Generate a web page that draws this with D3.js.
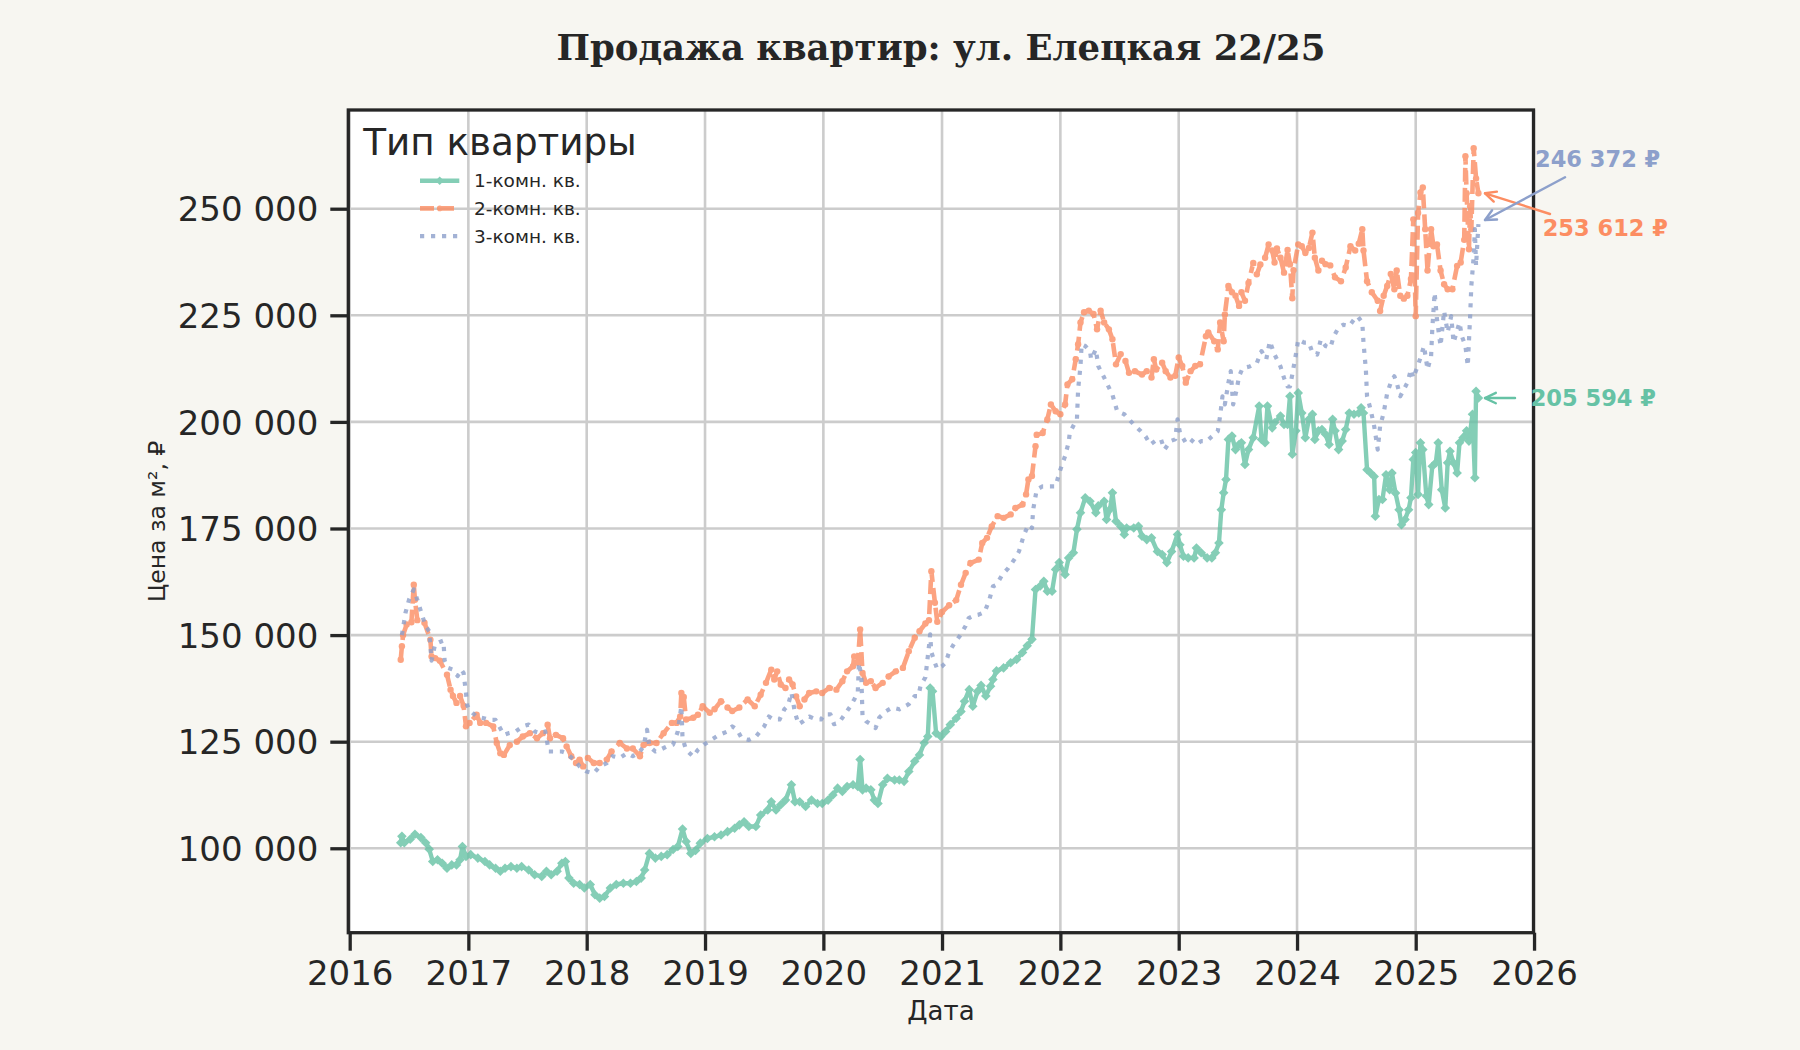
<!DOCTYPE html>
<html><head><meta charset="utf-8">
<script src="https://cdn.jsdelivr.net/npm/d3@7"></script>
<style>html,body{margin:0;padding:0;background:#f7f6f1;} svg{display:block}</style>
</head><body><svg id="chart" width="1800" height="1050"></svg>
<script>
// ---- DATA (decimal year, price per m² in ₽) ----
const oneRoom = [
[2016.43,101300],[2016.44,102800],[2016.46,101300],[2016.51,102100],[2016.55,103300],[2016.60,102500],[2016.64,101300],[2016.67,99800],[2016.70,96900],[2016.74,97300],[2016.78,96500],[2016.82,95300],[2016.86,96100],[2016.90,96100],[2016.93,97300],[2016.95,100400],[2016.98,98100],
[2017.02,98500],[2017.08,97700],[2017.14,96900],[2017.18,96100],[2017.23,95300],[2017.27,94600],[2017.31,95300],[2017.36,95700],[2017.41,95300],[2017.45,95700],[2017.51,94900],[2017.56,93800],[2017.62,93400],[2017.66,94600],[2017.70,93800],[2017.75,94600],[2017.79,96500],[2017.82,96900],[2017.85,93000],[2017.89,91800],[2017.94,91500],[2017.98,90700],
[2018.03,91500],[2018.07,89100],[2018.11,88300],[2018.15,88700],[2018.20,90700],[2018.25,91500],[2018.31,91800],[2018.37,91800],[2018.42,92200],[2018.46,93000],[2018.49,94900],[2018.53,98800],[2018.58,97700],[2018.63,98100],[2018.68,98500],[2018.73,99700],[2018.77,100400],[2018.81,104500],[2018.84,101600],[2018.88,98800],[2018.92,99500],[2018.96,101200],
[2019.02,102300],[2019.08,102700],[2019.135,103100],[2019.19,103900],[2019.25,104700],[2019.29,105500],[2019.33,106200],[2019.37,105100],[2019.43,105100],[2019.47,107800],[2019.53,109000],[2019.56,110900],[2019.60,109000],[2019.64,110200],[2019.68,111300],[2019.73,114900],[2019.76,110900],[2019.80,110900],[2019.85,109800],[2019.90,111300],[2019.95,110500],[2019.99,110500],
[2020.04,111300],[2020.08,112500],[2020.12,114100],[2020.16,113300],[2020.20,114500],[2020.25,114900],[2020.29,114500],[2020.31,120800],[2020.33,113700],[2020.36,114100],[2020.40,113700],[2020.43,111300],[2020.46,110500],[2020.50,114900],[2020.54,116400],[2020.60,116000],[2020.64,116000],[2020.68,115700],[2020.72,118000],[2020.77,120400],[2020.81,121900],[2020.85,124700],[2020.88,126200],[2020.90,137600],[2020.92,136800],[2020.95,127000],[2020.99,126200],
[2021.03,127400],[2021.07,129000],[2021.12,130500],[2021.16,132100],[2021.19,134500],[2021.23,137200],[2021.26,133300],[2021.30,136800],[2021.33,138200],[2021.37,135700],[2021.41,138000],[2021.43,139600],[2021.46,141600],[2021.52,142300],[2021.58,143500],[2021.63,144300],[2021.68,145900],[2021.72,147500],[2021.76,149000],[2021.79,160700],[2021.83,161500],[2021.86,162600],[2021.89,160300],[2021.93,160300],[2021.96,165400],[2021.99,167000],
[2022.04,164200],[2022.07,168100],[2022.11,169300],[2022.14,174800],[2022.17,178700],[2022.21,182200],[2022.25,181400],[2022.30,178700],[2022.32,180300],[2022.37,181400],[2022.39,177100],[2022.42,179500],[2022.44,183400],[2022.47,176700],[2022.51,175500],[2022.54,173600],[2022.56,175100],[2022.62,175100],[2022.66,175500],[2022.69,173200],[2022.73,172400],[2022.77,172800],[2022.82,169600],[2022.86,168900],[2022.90,167000],[2022.94,169600],[2022.99,173600],
[2023.01,171200],[2023.04,168500],[2023.08,168100],[2023.13,168100],[2023.15,170400],[2023.19,169300],[2023.24,168100],[2023.28,168100],[2023.31,169300],[2023.34,171600],[2023.36,179400],[2023.38,183400],[2023.40,186500],[2023.42,195900],[2023.45,196700],[2023.48,193500],[2023.51,194700],[2023.53,195100],[2023.56,190000],[2023.59,193500],[2023.63,196300],[2023.68,203700],[2023.70,195900],[2023.73,195100],[2023.75,203700],[2023.79,198600],[2023.81,199800],[2023.86,201400],[2023.89,199400],[2023.92,199400],[2023.94,206000],[2023.96,192400],[2023.99,197900],
[2024.01,206800],[2024.04,202100],[2024.07,196300],[2024.10,200600],[2024.13,201800],[2024.15,195900],[2024.18,197900],[2024.21,198200],[2024.24,197100],[2024.27,194700],[2024.30,200600],[2024.32,197900],[2024.35,193500],[2024.38,195500],[2024.41,198200],[2024.44,202100],[2024.48,201800],[2024.52,202100],[2024.54,203300],[2024.56,202100],[2024.59,188800],[2024.62,188000],[2024.65,187200],[2024.66,177900],[2024.69,181800],[2024.72,181800],[2024.75,187600],[2024.78,184100],[2024.80,188000],[2024.83,183300],[2024.86,179400],[2024.88,175900],[2024.91,177100],[2024.94,179400],[2024.96,182200],[2024.98,191200],
[2025.00,192800],[2025.02,183000],[2025.04,195100],[2025.06,193500],[2025.09,182600],[2025.11,180600],[2025.14,189600],[2025.17,190400],[2025.19,195100],[2025.22,184100],[2025.25,179800],[2025.27,190400],[2025.29,193100],[2025.32,190400],[2025.35,188000],[2025.37,195100],[2025.40,196300],[2025.43,197900],[2025.45,195500],[2025.48,201800],[2025.50,186900],[2025.51,207200],[2025.53,205594]
];
const twoRoom = [
[2016.43,144200],[2016.44,147400],[2016.45,150000],[2016.48,152500],[2016.52,153000],[2016.54,161800],[2016.55,158300],[2016.57,153500],[2016.63,152900],[2016.68,148900],[2016.69,145000],[2016.72,144600],[2016.76,144000],[2016.82,140700],[2016.85,137200],[2016.87,135700],[2016.90,134100],[2016.93,135700],[2016.96,133400],[2016.98,128600],
[2017.01,129400],[2017.07,131300],[2017.10,129400],[2017.15,129400],[2017.21,128600],[2017.24,124700],[2017.27,122300],[2017.30,121900],[2017.35,124200],[2017.41,125000],[2017.46,126200],[2017.52,127000],[2017.58,125800],[2017.63,127000],[2017.67,129000],[2017.69,125800],[2017.74,126600],[2017.80,125800],[2017.83,123900],[2017.87,121600],[2017.91,120000],[2017.94,120800],[2017.97,119200],
[2018.01,121200],[2018.06,120000],[2018.11,120000],[2018.17,120800],[2018.21,122700],[2018.28,124700],[2018.34,123400],[2018.39,123400],[2018.45,121600],[2018.48,124200],[2018.53,124700],[2018.59,124700],[2018.65,127000],[2018.72,129400],[2018.76,129400],[2018.79,130900],[2018.80,136400],[2018.82,135500],[2018.84,130200],[2018.90,130600],[2018.94,131300],[2018.98,133300],
[2019.04,131800],[2019.08,132600],[2019.135,134500],[2019.19,133000],[2019.23,132200],[2019.29,133000],[2019.36,134900],[2019.42,133300],[2019.47,136000],[2019.515,138800],[2019.56,141900],[2019.585,139600],[2019.61,141500],[2019.64,138400],[2019.68,137600],[2019.71,139600],[2019.74,138400],[2019.77,135600],[2019.80,133300],[2019.84,134900],[2019.88,136400],[2019.94,136800],[2019.99,136400],
[2020.05,137600],[2020.11,137200],[2020.16,139200],[2020.20,141500],[2020.25,142700],[2020.26,145000],[2020.29,143500],[2020.31,151300],[2020.33,141100],[2020.36,138800],[2020.40,139200],[2020.44,137600],[2020.50,138800],[2020.55,140300],[2020.61,141500],[2020.67,142300],[2020.72,146200],[2020.77,149400],[2020.81,150900],[2020.86,152700],[2020.89,153500],[2020.91,165000],[2020.94,157600],[2020.96,153100],
[2021.00,155400],[2021.06,157000],[2021.12,158200],[2021.16,161800],[2021.20,164600],[2021.24,166900],[2021.31,167700],[2021.34,171600],[2021.38,172800],[2021.42,175500],[2021.47,177900],[2021.52,177500],[2021.58,178300],[2021.62,179800],[2021.68,180600],[2021.71,183000],[2021.73,186500],[2021.76,187300],[2021.79,194300],[2021.80,197000],[2021.85,197400],[2021.89,200600],[2021.92,204100],[2021.96,202500],
[2022.00,201800],[2022.04,204100],[2022.06,208800],[2022.10,210000],[2022.13,214700],[2022.15,218200],[2022.17,223300],[2022.20,225700],[2022.24,226100],[2022.28,225300],[2022.31,221700],[2022.34,226100],[2022.37,223300],[2022.41,221700],[2022.44,219400],[2022.47,213500],[2022.51,215900],[2022.55,214300],[2022.58,211500],[2022.63,211900],[2022.69,211100],[2022.73,211900],[2022.77,210400],[2022.79,214700],[2022.81,212300],[2022.86,213900],[2022.89,211900],[2022.93,210400],[2022.97,210800],
[2023.00,215100],[2023.03,213100],[2023.06,209200],[2023.10,211900],[2023.14,213100],[2023.18,213500],[2023.23,220100],[2023.25,221000],[2023.30,218900],[2023.33,217000],[2023.35,223300],[2023.38,218900],[2023.39,225200],[2023.42,231900],[2023.45,230400],[2023.48,229600],[2023.51,227200],[2023.53,230400],[2023.56,228400],[2023.59,232600],[2023.63,237300],[2023.66,234600],[2023.69,236900],[2023.73,238500],[2023.76,241600],[2023.79,240200],[2023.81,237400],[2023.83,240700],[2023.86,238500],[2023.89,235000],[2023.92,240300],[2023.94,237000],[2023.96,229000],[2023.97,235600],
[2024.01,241600],[2024.04,241200],[2024.07,239600],[2024.10,240800],[2024.13,244400],[2024.15,238500],[2024.18,235500],[2024.21,237800],[2024.24,237000],[2024.28,236700],[2024.32,233900],[2024.37,233000],[2024.41,236200],[2024.45,241200],[2024.49,240200],[2024.52,241800],[2024.55,245200],[2024.56,240200],[2024.59,233000],[2024.63,230400],[2024.68,228400],[2024.70,226000],[2024.73,229600],[2024.76,231900],[2024.79,234700],[2024.82,231100],[2024.84,235500],[2024.87,229600],[2024.90,228900],[2024.93,229600],[2024.96,233500],[2024.98,247500],
[2025.00,224800],[2025.02,249000],[2025.04,253800],[2025.06,255000],[2025.08,245200],[2025.10,235500],[2025.13,245200],[2025.15,241200],[2025.18,241600],[2025.21,235500],[2025.24,232300],[2025.27,231100],[2025.31,231100],[2025.35,236600],[2025.38,237400],[2025.41,242700],[2025.42,262300],[2025.43,253600],[2025.45,240500],[2025.46,250600],[2025.47,245200],[2025.49,264200],[2025.51,257100],[2025.53,253612]
];
const threeRoom = [
[2016.44,150000],[2016.47,155200],[2016.50,158300],[2016.54,160700],[2016.57,158300],[2016.60,155600],[2016.64,152100],[2016.67,150900],[2016.69,144000],[2016.72,147900],[2016.76,148400],[2016.79,148700],[2016.80,144000],[2016.83,142300],[2016.87,141900],[2016.91,140400],[2016.94,141900],[2016.96,141100],[2016.98,136400],[2016.99,133600],
[2017.01,132400],[2017.07,130900],[2017.13,130500],[2017.18,130100],[2017.23,130100],[2017.26,128600],[2017.30,126600],[2017.34,127000],[2017.40,127400],[2017.46,128600],[2017.51,129000],[2017.56,127400],[2017.61,127000],[2017.65,127400],[2017.68,122700],[2017.74,122700],[2017.79,122700],[2017.83,122300],[2017.89,120800],[2017.94,119200],
[2018.00,118000],[2018.06,117600],[2018.11,119200],[2018.17,120000],[2018.22,121600],[2018.28,121200],[2018.34,122300],[2018.39,121600],[2018.44,122300],[2018.48,123900],[2018.51,127800],[2018.53,123900],[2018.58,122700],[2018.62,123100],[2018.68,123900],[2018.73,124300],[2018.77,127400],[2018.80,133300],[2018.81,125700],[2018.84,123100],[2018.90,121500],[2018.94,123100],[2018.99,124300],
[2019.05,125400],[2019.12,126600],[2019.19,127400],[2019.23,128600],[2019.27,127800],[2019.31,125800],[2019.37,125400],[2019.43,126200],[2019.50,128600],[2019.54,130900],[2019.58,130200],[2019.63,130200],[2019.67,132600],[2019.70,133400],[2019.73,136500],[2019.76,131800],[2019.79,129100],[2019.83,129800],[2019.88,130900],[2019.94,130200],[2019.98,130200],
[2020.01,131400],[2020.06,131400],[2020.09,129100],[2020.13,129400],[2020.19,131800],[2020.23,133400],[2020.26,134900],[2020.29,136500],[2020.30,143500],[2020.32,140300],[2020.33,130900],[2020.36,129800],[2020.40,129100],[2020.44,128200],[2020.47,130600],[2020.53,132200],[2020.58,133000],[2020.64,132600],[2020.72,133800],[2020.77,135700],[2020.80,135700],[2020.82,138200],[2020.86,140100],[2020.89,147400],[2020.90,150200],[2020.91,146000],[2020.94,143500],[2020.96,142000],
[2021.00,142700],[2021.03,143500],[2021.06,146000],[2021.10,147900],[2021.15,149800],[2021.20,152200],[2021.225,154000],[2021.27,154600],[2021.31,154800],[2021.36,155400],[2021.40,158300],[2021.43,161400],[2021.46,161800],[2021.51,164200],[2021.56,165700],[2021.61,167700],[2021.65,169600],[2021.68,172400],[2021.70,174000],[2021.73,175900],[2021.76,175100],[2021.77,179400],[2021.80,184100],[2021.85,184900],[2021.90,184900],[2021.96,184900],[2021.99,188000],
[2022.01,189600],[2022.04,192000],[2022.07,195200],[2022.08,197500],[2022.11,199100],[2022.14,200600],[2022.15,207600],[2022.17,213100],[2022.18,218200],[2022.21,217800],[2022.25,216600],[2022.26,214700],[2022.30,217000],[2022.32,213100],[2022.37,210400],[2022.39,209200],[2022.44,206400],[2022.48,202500],[2022.54,201800],[2022.58,200600],[2022.62,199400],[2022.68,197800],[2022.72,196600],[2022.76,194700],[2022.80,195500],[2022.85,195900],[2022.88,193500],[2022.93,195500],[2022.97,195900],[2022.99,200600],
[2023.01,197500],[2023.06,195100],[2023.10,195900],[2023.15,194700],[2023.19,195500],[2023.24,195500],[2023.28,196600],[2023.33,197800],[2023.35,201400],[2023.37,206000],[2023.39,204100],[2023.42,209200],[2023.44,211900],[2023.46,204100],[2023.49,207600],[2023.51,210700],[2023.54,212600],[2023.60,213000],[2023.66,213800],[2023.70,216600],[2023.74,214700],[2023.77,218900],[2023.81,215800],[2023.86,213000],[2023.89,210300],[2023.92,208300],[2023.94,208300],[2023.96,211100],[2023.99,215800],
[2024.01,219300],[2024.06,218600],[2024.10,218600],[2024.13,216200],[2024.17,215800],[2024.20,219300],[2024.24,217800],[2024.28,217400],[2024.31,220100],[2024.35,222100],[2024.39,222800],[2024.44,222500],[2024.48,224000],[2024.51,224800],[2024.55,223300],[2024.56,218600],[2024.58,212300],[2024.59,206000],[2024.62,202900],[2024.65,199000],[2024.68,193500],[2024.70,199000],[2024.73,202100],[2024.76,206800],[2024.79,209200],[2024.82,210700],[2024.84,209200],[2024.87,206000],[2024.90,207600],[2024.93,209200],[2024.96,212300],[2024.98,210300],
[2025.01,212600],[2025.04,215000],[2025.07,217800],[2025.10,212300],[2025.13,215400],[2025.14,221700],[2025.16,230300],[2025.18,224000],[2025.21,217800],[2025.24,226000],[2025.27,221000],[2025.30,224800],[2025.32,218600],[2025.37,223300],[2025.39,220100],[2025.42,217800],[2025.44,213100],[2025.46,224800],[2025.47,231900],[2025.49,238800],[2025.50,245200],[2025.51,236600],[2025.53,246372]
];
const seriesNames = ["1-комн. кв.", "2-комн. кв.", "3-комн. кв."];
const seriesColors = ["#66c2a5", "#fc8d62", "#8da0cb"];
const yTickValues = [100000, 125000, 150000, 175000, 200000, 225000, 250000];
const xTickYears = [2016, 2017, 2018, 2019, 2020, 2021, 2022, 2023, 2024, 2025, 2026];
const titleText = "Продажа квартир: ул. Елецкая 22/25";
const legendTitle = "Тип квартиры";
const yLabel = "Цена за м², ₽";
const xLabel = "Дата";

// ---- helpers ----
function decYear(v) {
  const yr = Math.floor(v);
  const a = Date.UTC(yr, 0, 1), b = Date.UTC(yr + 1, 0, 1);
  return new Date(a + (v - yr) * (b - a));
}
const fmtNum = v => d3.format(",")(Math.round(v)).replace(/,/g, " ");

const svg = d3.select("#chart");
const W = 1800, H = 1050;
const L = 348.3, R = 1533.5, T = 110, B = 932.7;
const INK = "#262626";
const SANS = "DejaVu Sans, sans-serif";

svg.append("rect").attr("width", W).attr("height", H).attr("fill", "#f7f6f1");

const x = d3.scaleUtc()
  .domain([new Date(Date.UTC(2015, 11, 27, 17)), new Date(Date.UTC(2025, 11, 30, 8))])
  .range([L, R]);
const y = d3.scaleLinear().domain([80200, 273150]).range([B, T]);

svg.append("rect").attr("x", L).attr("y", T).attr("width", R - L).attr("height", B - T).attr("fill", "#ffffff");

svg.append("defs").append("clipPath").attr("id", "clip")
  .append("rect").attr("x", L).attr("y", T).attr("width", R - L).attr("height", B - T);

// grid
const xTickDates = xTickYears.map(yr => new Date(Date.UTC(yr, 0, 1)));
const grid = svg.append("g").attr("stroke", "#cccccc").attr("stroke-width", 2.6);
grid.selectAll(".gx").data(xTickDates).join("line")
  .attr("x1", d => x(d)).attr("x2", d => x(d)).attr("y1", T).attr("y2", B);
grid.selectAll(".gy").data(yTickValues).join("line")
  .attr("x1", L).attr("x2", R).attr("y1", d => y(d)).attr("y2", d => y(d));

// series
const series = [
  { data: oneRoom, color: seriesColors[0], dash: null, width: 4.4, marker: "diamond" },
  { data: twoRoom, color: seriesColors[1], dash: "14,6", width: 4.6, marker: "dot" },
  { data: threeRoom, color: seriesColors[2], dash: "4.2,6.8", width: 4.2, marker: null }
];
const line = d3.line().x(d => x(decYear(d[0]))).y(d => y(d[1]));
const plot = svg.append("g").attr("clip-path", "url(#clip)");
const diamondPath = r => `M0,${-r}L${r},0L0,${r}L${-r},0Z`;

series.forEach(s => {
  const g = plot.append("g").attr("opacity", 0.8);
  g.append("path").datum(s.data).attr("d", line)
    .attr("fill", "none").attr("stroke", s.color).attr("stroke-width", s.width)
    .attr("stroke-linejoin", "round")
    .attr("stroke-dasharray", s.dash);
  if (s.marker === "diamond") {
    g.selectAll("path.m").data(s.data).join("path").attr("class", "m")
      .attr("d", diamondPath(4.8))
      .attr("transform", d => `translate(${x(decYear(d[0]))},${y(d[1])})`)
      .attr("fill", s.color);
  } else if (s.marker === "dot") {
    g.selectAll("circle").data(s.data).join("circle")
      .attr("cx", d => x(decYear(d[0]))).attr("cy", d => y(d[1])).attr("r", 3.2)
      .attr("fill", s.color);
  }
});

// spines
svg.append("rect").attr("x", L).attr("y", T).attr("width", R - L).attr("height", B - T)
  .attr("fill", "none").attr("stroke", INK).attr("stroke-width", 3.3);

// axes
const xAxis = d3.axisBottom(x).tickValues(xTickDates).tickFormat(d3.utcFormat("%Y"))
  .tickSize(18).tickPadding(10);
const gx = svg.append("g").attr("transform", `translate(0,${B})`).call(xAxis);
gx.select(".domain").remove();
gx.selectAll("line").attr("stroke", INK).attr("stroke-width", 3.3);
gx.selectAll("text").attr("fill", INK).attr("font-size", 34).attr("font-family", SANS);

const yAxis = d3.axisLeft(y).tickValues(yTickValues).tickFormat(fmtNum).tickSize(18).tickPadding(12);
const gy = svg.append("g").attr("transform", `translate(${L},0)`).call(yAxis);
gy.select(".domain").remove();
gy.selectAll("line").attr("stroke", INK).attr("stroke-width", 3.3);
gy.selectAll("text").attr("fill", INK).attr("font-size", 34).attr("font-family", SANS).attr("dy", "0.36em");

// labels
svg.append("text").attr("x", (L + R) / 2).attr("y", 60).attr("text-anchor", "middle")
  .attr("font-family", "DejaVu Serif, serif").attr("font-weight", "bold").attr("font-size", 35.5)
  .attr("fill", INK).text(titleText);
svg.append("text").attr("x", (L + R) / 2).attr("y", 1011).attr("dy", "0.35em").attr("text-anchor", "middle")
  .attr("font-family", SANS).attr("font-size", 26).attr("fill", INK).text(xLabel);
svg.append("text").attr("transform", `translate(157,${(T + B) / 2}) rotate(-90)`).attr("dy", "0.35em")
  .attr("text-anchor", "middle").attr("font-family", SANS).attr("font-size", 23.5).attr("fill", INK).text(yLabel);

// legend
const lg = svg.append("g");
lg.append("text").attr("x", 363.3).attr("y", 155).attr("font-family", SANS).attr("font-size", 37.3)
  .attr("fill", INK).text(legendTitle);
series.forEach((s, i) => {
  const cy = 180.7 + i * 27.7;
  const g = lg.append("g").attr("opacity", 0.8);
  g.append("line").attr("x1", 420).attr("x2", 459.3).attr("y1", cy).attr("y2", cy)
    .attr("stroke", s.color).attr("stroke-width", s.width).attr("stroke-dasharray", s.dash);
  if (s.marker === "diamond") {
    g.append("path").attr("d", diamondPath(4.2)).attr("transform", `translate(439.7,${cy})`).attr("fill", s.color);
  } else if (s.marker === "dot") {
    g.append("circle").attr("cx", 439.7).attr("cy", cy).attr("r", 2.8).attr("fill", s.color);
  }
  lg.append("text").attr("x", 474).attr("y", cy).attr("dy", "0.36em").attr("font-family", SANS)
    .attr("font-size", 18.5).attr("fill", INK).text(seriesNames[i]);
});

// annotations of last values
const annot = [
  { s: 0, text: [52.3, 8], tail: [36.6, 0], tip: [6.6, 0] },
  { s: 1, text: [64.3, 42.7], tail: [71.6, 20.7], tip: [6.6, 0] },
  { s: 2, text: [56.6, -57.5], tail: [86.6, -46.9], tip: [6.6, -4.2] }
];
const ag = svg.append("g");
annot.forEach(a => {
  const s = series[a.s];
  const last = s.data[s.data.length - 1];
  const px = x(decYear(last[0])), py = y(last[1]);
  const x1 = px + a.tail[0], y1 = py + a.tail[1], x2 = px + a.tip[0], y2 = py + a.tip[1];
  const ang = Math.atan2(y2 - y1, x2 - x1);
  const hl = 12, hw = 0.45;
  const g = ag.append("g").attr("stroke", s.color).attr("stroke-width", 2.4).attr("fill", "none")
    .attr("stroke-linecap", "round").attr("stroke-linejoin", "round");
  g.append("line").attr("x1", x1).attr("y1", y1).attr("x2", x2).attr("y2", y2);
  g.append("path").attr("d",
    `M${x2 - hl * Math.cos(ang - hw)},${y2 - hl * Math.sin(ang - hw)}L${x2},${y2}L${x2 - hl * Math.cos(ang + hw)},${y2 - hl * Math.sin(ang + hw)}`);
  ag.append("text").attr("x", px + a.text[0]).attr("y", py + a.text[1])
    .attr("font-family", SANS).attr("font-weight", "bold").attr("font-size", 22.5)
    .attr("fill", s.color).text(fmtNum(last[1]) + " ₽");
});
</script></body></html>
